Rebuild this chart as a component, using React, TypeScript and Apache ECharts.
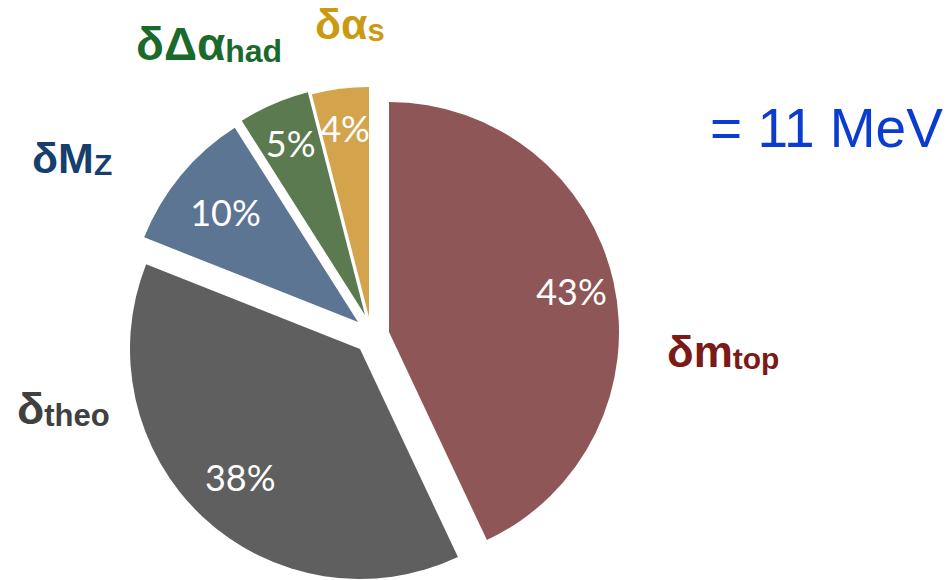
import React, { useEffect, useRef } from 'react';
import * as echarts from 'echarts';

// ---- data ----
const categories = ['δm_top', 'δ_theo', 'δM_Z', 'δΔα_had', 'δα_s'];
const shares = [43, 38, 10, 5, 4];
const totalLabel = '= 11 MeV';

// ---- styles / layout ----
const sliceColors = ['#8e5656', '#5f5f5f', '#5b7593', '#5c7a4f', '#d4a44c'];
const sliceCenters = [
  [389, 332],
  [360, 349],
  [358, 322],
  [365, 315],
  [369, 317],
];
const labelRadii = [184, 172, 169, 184, 188];
const R = 230;

const outerMain = ['δm', 'δ', 'δM', 'δΔα', 'δα'];
const outerSub = ['top', 'theo', 'Z', 'had', 's'];
const outerColors = ['#7b1a16', '#404040', '#163f6e', '#1b6a2c', '#cc9a10'];
const outerFont = [44, 45, 43, 46, 43];
const outerSubFont = [30, 31, 30, 32, 31];
const outerPos = [
  [667, 362],
  [17, 420],
  [32, 169],
  [136, 55],
  [315, 35],
];
const outerDrop = [2, 3, 10, 5, 10];

const FONT = '"Liberation Sans", Arial, sans-serif';

function subText(i: number) {
  const f = outerFont[i];
  const fs = outerSubFont[i];
  const d = outerDrop[i];
  const [x, base] = outerPos[i];
  const y = base + 0.2535 * f;
  const ls = 2 * (0.2535 * f + 0.3465 * fs - d);
  return {
    type: 'text',
    style: {
      text: `{m|${outerMain[i]}}{s|${outerSub[i]}}`,
      x,
      y,
      align: 'left',
      verticalAlign: 'bottom',
      rich: {
        m: {
          fontSize: f,
          fontWeight: 'bold',
          fontFamily: FONT,
          fill: outerColors[i],
          lineHeight: 1.2 * f,
          verticalAlign: 'bottom',
        },
        s: {
          fontSize: fs,
          fontWeight: 'bold',
          fontFamily: FONT,
          fill: outerColors[i],
          lineHeight: ls,
          verticalAlign: 'bottom',
        },
      },
    },
  };
}

export default function App() {
  const ref = useRef<HTMLDivElement>(null);
  useEffect(() => {
    if (!ref.current) return;
    const chart = echarts.init(ref.current, undefined, { renderer: 'svg' });
    const total = shares.reduce((a, b) => a + b, 0);
    let cum = 0;
    const series: any[] = [];
    shares.forEach((v, i) => {
      const startAngle = 90 - (cum / total) * 360;
      cum += v;
      const mk = (visible: boolean) => [
        {
          name: categories[i],
          value: v,
          itemStyle: { color: visible ? sliceColors[i] : 'rgba(0,0,0,0)' },
        },
        {
          name: 'rest',
          value: total - v,
          itemStyle: { color: 'rgba(0,0,0,0)' },
          label: { show: false },
          labelLine: { show: false },
        },
      ];
      series.push({
        type: 'pie',
        center: sliceCenters[i],
        radius: [0, R],
        startAngle,
        clockwise: true,
        avoidLabelOverlap: false,
        silent: true,
        emphasis: { disabled: true },
        label: { show: false },
        labelLine: { show: false },
        itemStyle: { borderWidth: 0 },
        data: mk(true),
      });
      series.push({
        type: 'pie',
        center: sliceCenters[i],
        radius: [2 * labelRadii[i] - R, R],
        startAngle,
        clockwise: true,
        avoidLabelOverlap: false,
        silent: true,
        emphasis: { disabled: true },
        label: {
          show: true,
          position: 'inside',
          formatter: '{c}%',
          color: '#ffffff',
          fontFamily: 'Lato, "Open Sans", sans-serif',
          fontSize: 36,
        },
        labelLine: { show: false },
        itemStyle: { borderWidth: 0 },
        data: mk(false),
      });
    });

    const graphic: any[] = shares.map((_, i) => subText(i));
    graphic.push({
      type: 'text',
      style: {
        text: totalLabel,
        x: 710,
        y: 147 + 0.2535 * 55,
        align: 'left',
        verticalAlign: 'bottom',
        fontSize: 55,
        lineHeight: 66,
        fontFamily: FONT,
        fill: '#0a3cd0',
      },
    });

    chart.setOption({
      animation: false,
      backgroundColor: '#ffffff',
      series,
      graphic,
    });
    return () => chart.dispose();
  }, []);
  return (
    <div
      ref={ref}
      style={{ position: 'fixed', left: 0, top: 0, width: 952, height: 580 }}
    />
  );
}
